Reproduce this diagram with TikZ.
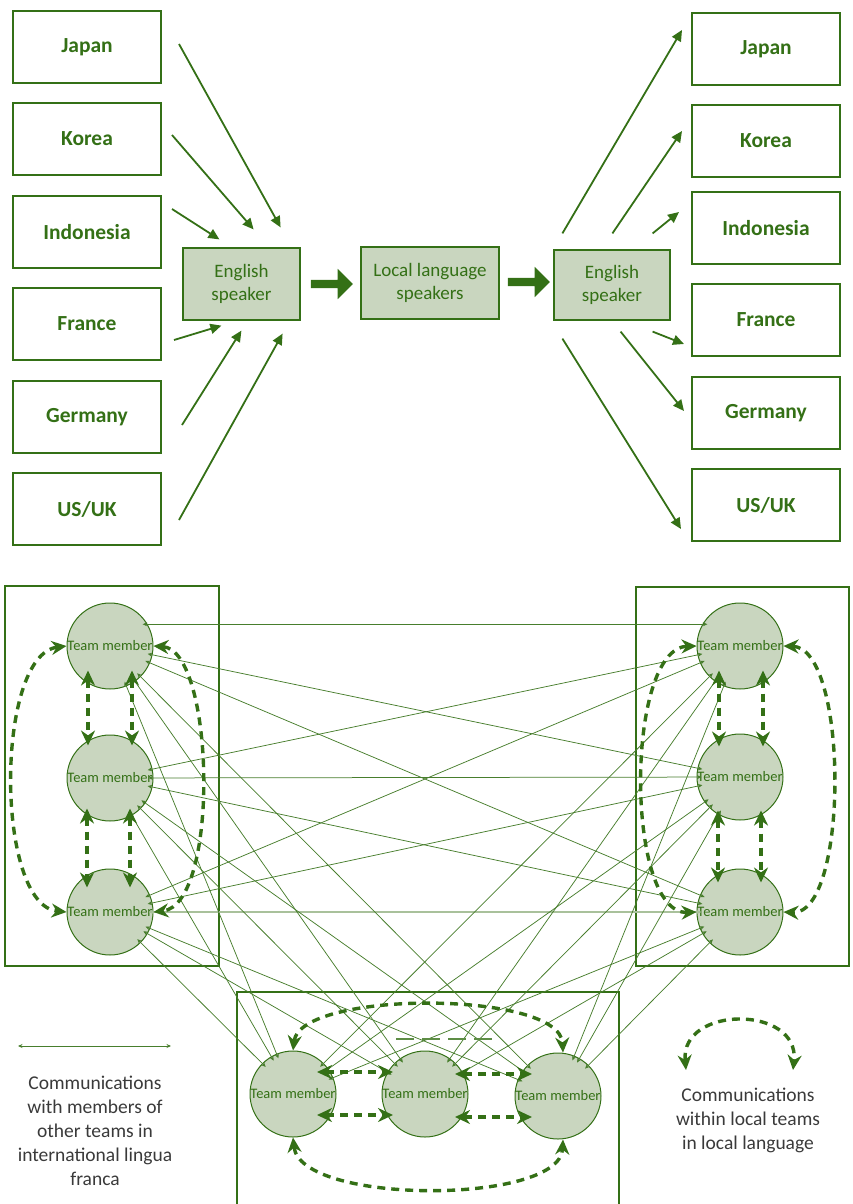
\documentclass[tikz,border=0pt]{standalone}
\usepackage{fontspec}
\setmainfont{Carlito}
\usetikzlibrary{arrows.meta,shapes.arrows}

\definecolor{leafgreen}{RGB}{52,112,22}
\definecolor{sagefill}{RGB}{201,214,191}
\definecolor{sageline}{RGB}{169,193,155}
\definecolor{legendgray}{RGB}{58,58,58}

\tikzset{
  country/.style={draw=leafgreen, line width=2pt, minimum width=148pt, minimum height=72pt,
    text=leafgreen, font=\fontsize{21.5}{24}\selectfont\bfseries},
  speakerbox/.style={draw=leafgreen, line width=1.2pt, fill=sagefill, text=leafgreen,
    align=center, font=\fontsize{19}{23}\selectfont},
  membertext/.style={text=leafgreen, inner sep=0pt, font=\fontsize{14.5}{16}\selectfont},
  member/.style={circle, draw=leafgreen, line width=1pt, fill=sagefill, minimum size=86pt,
    inner sep=0pt, label={[membertext]center:Team member}},
  feed/.style={draw=leafgreen, line width=1.8pt, -{Triangle[length=11pt,width=10pt]}},
  flowarrow/.style={single arrow, fill=leafgreen, inner sep=4pt, minimum height=42pt,
    single arrow head extend=11pt, anchor=west},
  teambox/.style={draw=leafgreen, line width=2pt},
  intltip/.style={draw=leafgreen!90!white, line width=0.75pt,
    {Stealth[length=4.5pt,width=4pt]}-{Stealth[length=4.5pt,width=4pt]}},
  intl/.style={intltip, shorten <=-5pt, shorten >=-5pt},
  localtalk/.style={draw=leafgreen, line width=3.4pt, dash pattern=on 8pt off 6pt,
    {Stealth[length=15pt,width=14pt]}-{Stealth[length=15pt,width=14pt]}},
  legendtext/.style={text=legendgray, align=center, font=\fontsize{19.5}{24}\selectfont}
}

\begin{document}
\begin{tikzpicture}[x=1pt,y=-1pt]
    \useasboundingbox (0,0) rectangle (852,1204);

    % countries sending to the English speaker
    \node [country] (japanL) at (87,47) {Japan};
    \node [country] (koreaL) at (87,139) {Korea};
    \node [country] (indoL) at (87,232) {Indonesia};
    \node [country] (franceL) at (87,324) {France};
    \node [country] (germanyL) at (87,417) {Germany};
    \node [country] (usukL) at (87,509) {US/UK};

    \node [speakerbox, minimum width=117pt, minimum height=72pt] (engL) at (241.5,284) {English\\speaker};
    \node [speakerbox, minimum width=138pt, minimum height=72pt] (localL) at (430,283) {Local language\\speakers};
    \node [speakerbox, minimum width=116pt, minimum height=70pt] (engR) at (612,285) {English\\speaker};

    % countries receiving from the English speaker
    \node [country] (japanR) at (766,49) {Japan};
    \node [country] (koreaR) at (766,141) {Korea};
    \node [country] (indoR) at (766,228) {Indonesia};
    \node [country] (franceR) at (766,320) {France};
    \node [country] (germanyR) at (766,413) {Germany};
    \node [country] (usukR) at (766,505) {US/UK};

    \draw [feed] ([shift={(17pt,3pt)}]japanL.east) -- ([shift={(-20pt,20pt)}]engL.north east);
    \draw [feed] ([shift={(10pt,4pt)}]koreaL.east) -- ([shift={(-47pt,18pt)}]engL.north east);
    \draw [feed] ([shift={(10pt,23pt)}]indoL.east) -- ([shift={(37pt,8pt)}]engL.north west);
    \draw [feed] ([shift={(12pt,-16pt)}]franceL.east) -- ([shift={(39pt,-5pt)}]engL.south west);
    \draw [feed] ([shift={(20pt,-8pt)}]germanyL.east) -- ([shift={(59pt,-10pt)}]engL.south west);
    \draw [feed] ([shift={(17pt,-11pt)}]usukL.east) -- ([shift={(-18pt,-13pt)}]engL.south east);

    % thick arrows through the local team
    \node [flowarrow] (flowA) at ([xshift=10pt]engL.east) {};
    \node [flowarrow] (flowB) at ([shift={(8pt,1pt)}]localL.east) {};

    \draw [feed] ([shift={(9pt,16pt)}]engR.north west) -- ([shift={(-9pt,19pt)}]japanR.west);
    \draw [feed] ([shift={(59pt,16pt)}]engR.north west) -- ([shift={(-9pt,10pt)}]koreaR.west);
    \draw [feed] ([shift={(-18pt,16pt)}]engR.north east) -- ([shift={(-12pt,16pt)}]indoR.west);
    \draw [feed] ([shift={(-18pt,-11pt)}]engR.south east) -- ([shift={(-7pt,-24pt)}]franceR.west);
    \draw [feed] ([shift={(-50pt,-11pt)}]engR.south east) -- ([shift={(-7pt,2pt)}]germanyR.west);
    \draw [feed] ([shift={(9pt,-18pt)}]engR.south west) -- ([shift={(-10pt,-24pt)}]usukR.west);

    % the three local teams
    \draw [teambox] (5,586) rectangle (219,966);
    \draw [teambox] (636,587) rectangle (849,966);
    \draw [teambox] (237,992) rectangle (619,1212);

    \node [member] (lt) at (110,646) {};
    \node [member] (lm) at (110,778) {};
    \node [member] (lb) at (110,912) {};
    \node [member] (rt) at (740,646) {};
    \node [member] (rm) at (740,777) {};
    \node [member] (rb) at (740,912) {};
    \node [member] (bl) at (293,1094) {};
    \node [member] (bm) at (425,1094) {};
    \node [member] (br) at (558,1096) {};

    % lingua franca between teams
    \draw [intl] (lt.30) -- (rt.150);
    \draw [intl] (lt) -- (rm);
    \draw [intl] (lt) -- (rb);
    \draw [intl] (lm) -- (rt);
    \draw [intl] (lm) -- (rm);
    \draw [intl] (lm) -- (rb);
    \draw [intl] (lb) -- (rt);
    \draw [intl] (lb) -- (rm);
    \draw [intl, draw=sageline, line width=1.8pt] (lb) -- (rb);
    \draw [intl] (lt) -- (bl);
    \draw [intl] (lt) -- (bm);
    \draw [intl] (lt) -- (br);
    \draw [intl] (lm) -- (bl);
    \draw [intl] (lm) -- (bm);
    \draw [intl] (lm) -- (br);
    \draw [intl] (lb) -- (bl);
    \draw [intl] (lb) -- (bm);
    \draw [intl] (lb) -- (br);
    \draw [intl] (rt) -- (bl);
    \draw [intl] (rt) -- (bm);
    \draw [intl] (rt) -- (br);
    \draw [intl] (rm) -- (bl);
    \draw [intl] (rm) -- (bm);
    \draw [intl] (rm) -- (br);
    \draw [intl] (rb) -- (bl);
    \draw [intl] (rb) -- (bm);
    \draw [intl] (rb) -- (br);

    % local language inside the left team
    \draw [localtalk] ([shift={(-22pt,19pt)}]lt.south) -- ([shift={(-22pt,-11pt)}]lm.north);
    \draw [localtalk] ([shift={(22pt,19pt)}]lt.south) -- ([shift={(22pt,-11pt)}]lm.north);
    \draw [localtalk] ([shift={(-23pt,13pt)}]lm.south) -- ([shift={(-23pt,-19pt)}]lb.north);
    \draw [localtalk] ([shift={(20pt,13pt)}]lm.south) -- ([shift={(20pt,-19pt)}]lb.north);
    \draw [localtalk] (lt.west) .. controls (-5,655) and (-5,905) .. (lb.west);
    \draw [localtalk] (lt.east) .. controls (215,650) and (220,905) .. (lb.east);

    % local language inside the right team
    \draw [localtalk] ([shift={(-21pt,19pt)}]rt.south) -- ([shift={(-21pt,-13pt)}]rm.north);
    \draw [localtalk] ([shift={(23pt,19pt)}]rt.south) -- ([shift={(23pt,-13pt)}]rm.north);
    \draw [localtalk] ([shift={(-22pt,10pt)}]rm.south) -- ([shift={(-22pt,-14pt)}]rb.north);
    \draw [localtalk] ([shift={(21pt,10pt)}]rm.south) -- ([shift={(21pt,-14pt)}]rb.north);
    \draw [localtalk] (rt.west) .. controls (625,648) and (625,915) .. (rb.west);
    \draw [localtalk] (rt.east) .. controls (849,648) and (849,915) .. (rb.east);

    % local language inside the bottom team
    \draw [localtalk] ([shift={(24pt,22pt)}]bl.center) -- ([shift={(-32pt,22pt)}]bm.center);
    \draw [localtalk] ([shift={(24pt,-21pt)}]bl.center) -- ([shift={(-32pt,-21pt)}]bm.center);
    \draw [localtalk] ([shift={(30pt,20pt)}]bm.center) -- ([shift={(-26pt,22pt)}]br.center);
    \draw [localtalk] ([shift={(30pt,-23pt)}]bm.center) -- ([shift={(-26pt,-21pt)}]br.center);
    \draw [localtalk] (bl.north) .. controls (300,990) and (560,990) .. ([xshift=5pt]br.north);
    \draw [localtalk] (bl.south) .. controls (300,1205) and (560,1205) .. ([xshift=5pt]br.south);
    \coordinate (strayA) at (396,1039);
    \coordinate (strayB) at (492,1039);
    \draw [draw=leafgreen!80!white, line width=2pt, dash pattern=on 18pt off 8pt] (strayA) -- (strayB);

    % legends
    \coordinate (keyA) at (18,1046);
    \coordinate (keyB) at (171,1046);
    \draw [intltip] (keyA) -- (keyB);
    \node [legendtext] (keyintl) at (95,1131) {Communications\\with members of\\other teams in\\international lingua\\franca};

    \coordinate (keyC) at (686,1070);
    \coordinate (keyD) at (793,1070);
    \draw [localtalk] (keyC) .. controls (680,1005) and (800,1005) .. (keyD);
    \node [legendtext] (keylocal) at (748,1120) {Communications\\within local teams\\in local language};
\end{tikzpicture}
\end{document}
